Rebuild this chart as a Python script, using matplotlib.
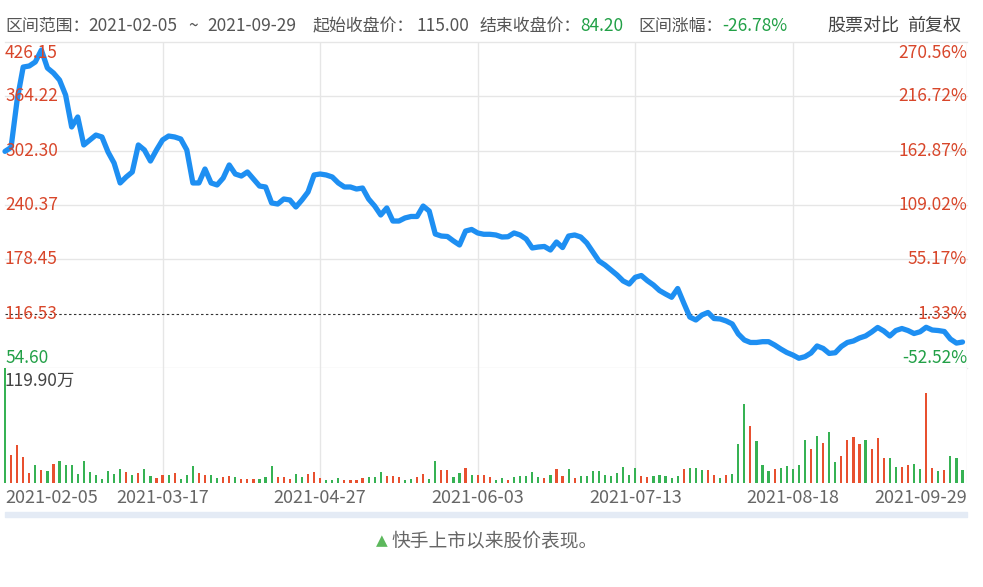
import matplotlib
matplotlib.use('Agg')
import matplotlib.pyplot as plt
from matplotlib.transforms import offset_copy, blended_transform_factory

plt.rcParams['font.family'] = ['Noto Sans CJK SC', 'DejaVu Sans']

# ---------------- data ----------------
date_ticks = ['2021-02-05', '2021-03-17', '2021-04-27', '2021-06-03',
              '2021-07-13', '2021-08-18', '2021-09-29']
date_tick_idx = [0, 26, 52, 78, 104, 130, 158]

close = [301.5, 306.0, 360.0, 397.6, 398.8, 403.4, 417.0, 396.5, 390.8, 382.8,
         365.7, 329.3, 340.7, 308.8, 314.5, 320.1, 317.9, 300.8, 288.2, 265.5,
         272.3, 278.0, 308.8, 303.1, 290.5, 303.1, 314.5, 319.0, 317.9, 315.6,
         303.1, 265.5, 265.5, 281.4, 265.5, 263.2, 271.1, 286.0, 275.7, 273.4,
         278.0, 270.0, 262.0, 260.9, 242.7, 241.5, 247.2, 246.1, 238.1, 246.1,
         255.2, 274.6, 275.7, 274.6, 272.3, 265.5, 260.9, 260.9, 258.6, 259.7,
         247.2, 239.2, 229.0, 237.0, 222.1, 222.1, 225.6, 227.3, 227.3, 239.2,
         233.5, 207.3, 205.0, 204.5, 199.4, 194.8, 210.7, 212.5, 208.5, 207.0,
         207.0, 206.2, 203.9, 204.2, 208.5, 206.2, 201.6, 191.4, 192.5, 193.1,
         189.1, 198.2, 191.9, 205.0, 206.2, 203.9, 197.1, 186.8, 176.6, 172.0,
         166.3, 160.6, 153.8, 150.3, 158.0, 160.0, 154.1, 149.2, 142.9, 138.9,
         135.2, 145.2, 128.7, 112.7, 109.3, 115.0, 117.9, 111.0, 110.5, 108.2,
         104.8, 93.4, 86.5, 83.7, 83.7, 84.6, 84.6, 80.8, 76.3, 72.3,
         69.4, 65.7, 67.5, 71.7, 79.7, 76.9, 71.2, 72.0, 79.1, 83.7,
         85.4, 88.8, 91.1, 95.6, 100.8, 96.8, 91.1, 97.3, 99.6, 97.3,
         93.9, 95.9, 101.0, 97.9, 97.3, 96.2, 87.6, 83.0, 84.2]

# volume in 万 shares
volume = [119.9, 29.0, 39.2, 26.3, 9.8, 18.5, 13.0, 12.2, 18.9, 22.8,
          17.9, 17.9, 8.8, 22.8, 10.5, 7.7, 3.5, 11.6, 8.8, 13.7,
          10.9, 8.0, 10.2, 13.7, 6.3, 4.6, 7.4, 7.4, 9.8, 3.2,
          7.7, 16.8, 9.8, 7.4, 7.7, 4.6, 6.0, 7.0, 6.0, 3.5,
          3.5, 3.5, 3.5, 6.0, 16.8, 6.0, 6.0, 3.5, 8.8, 6.0,
          8.8, 10.9, 5.0, 2.5, 2.5, 4.6, 2.5, 2.5, 2.5, 4.2,
          6.0, 5.3, 11.2, 7.0, 7.0, 6.0, 2.5, 3.2, 5.3, 8.8,
          3.5, 22.8, 13.0, 13.0, 5.3, 10.2, 15.1, 8.1, 8.1, 8.1,
          6.0, 2.5, 4.6, 2.5, 6.0, 6.7, 6.7, 10.9, 6.0, 4.6,
          7.4, 13.7, 6.7, 13.7, 4.6, 6.7, 6.7, 11.6, 11.6, 7.4,
          6.7, 10.2, 15.8, 7.4, 15.1, 6.8, 6.1, 7.2, 7.9, 6.8,
          5.1, 7.2, 13.8, 14.9, 14.9, 13.1, 13.1, 7.9, 4.4, 7.9,
          8.9, 40.4, 82.4, 59.3, 43.6, 18.0, 12.4, 14.2, 15.2, 17.7,
          13.8, 18.0, 44.3, 35.2, 48.5, 41.5, 52.7, 21.2, 28.2, 44.3,
          48.1, 40.4, 44.3, 35.2, 46.4, 25.4, 26.1, 16.6, 15.9, 18.0,
          19.1, 14.2, 93.6, 14.9, 12.4, 13.1, 27.8, 25.4, 13.1]

# r = red (up) bar, g = green (down) bar
vol_dir = list("".join(("grrrrgrgrg gggggggggg rgrggrrgrg ggrrggrrgr "
                        "rrgggrrrgg rrrgggrrrr gggrrrggrr ggrrggrgrr "
                        "rggrgggggrg rrgrgggggg ggggrrgggg grgggrrgrg "
                        "ggrgggrggg ggrgrggrrr rgrrrggrrg grrgrgggr").split()))
vol_dir = vol_dir[:len(volume)]

price_ticks = [426.15, 364.22, 302.30, 240.37, 178.45, 116.53, 54.60]
pct_ticks = ['270.56%', '216.72%', '162.87%', '109.02%', '55.17%', '1.33%', '-52.52%']
base_price = 116.53
vol_max = 119.90

# ---------------- style ----------------
RED = '#d8462a'
GREEN = '#22a047'
VRED = '#e8502f'
VGREEN = '#36b253'
BLUE = '#1e8ff2'
GRID = '#e6e6e6'
TXT = '#555555'

W, H = 983, 587
fig = plt.figure(figsize=(W / 100, H / 100), dpi=100)


def frac(x0, y0, x1, y1):
    return [x0 / W, 1 - y1 / H, (x1 - x0) / W, (y1 - y0) / H]


ax = fig.add_axes(frac(5, 42, 967, 368))
axv = fig.add_axes(frac(5, 368, 967, 482.5))

n = len(close)
xs = list(range(n))
xmax = (n - 1) + 0.74

for a in (ax, axv):
    a.set_xlim(0, xmax)
    for s in a.spines.values():
        s.set_visible(False)
    a.set_xticks([])
    a.set_yticks([])
    for t in date_tick_idx[1:-1]:
        a.axvline(t, color=GRID, lw=1, zorder=0)
    a.axvline(xmax, color=GRID, lw=1, zorder=0)

# price panel
ax.set_ylim(price_ticks[-1], price_ticks[0])
for v in price_ticks:
    if v == base_price:
        continue
    ax.axhline(v, color=GRID, lw=1, zorder=0, clip_on=False)
ax.axhline(base_price, color='#333333', lw=0.8, ls=(0, (2.2, 2.2)), zorder=1)
ax.plot(xs, close, color=BLUE, lw=3.8, solid_joinstyle='round',
        solid_capstyle='round', zorder=3, clip_on=False)

nt = len(price_ticks)
for i, (v, p) in enumerate(zip(price_ticks, pct_ticks)):
    col = GREEN if v < 115.0 else RED
    if i == 0:
        dy = -11
    elif i == nt - 1:
        dy = 10
    else:
        dy = 0
    tr_l = offset_copy(ax.get_yaxis_transform(), fig=fig, x=0, y=dy, units='dots')
    ax.text(0, v, f'{v:.2f}', transform=tr_l, ha='left', va='center',
            color=col, fontsize=12.5, zorder=4)
    ax.text(1, v, p, transform=tr_l, ha='right', va='center',
            color=col, fontsize=12.5, zorder=4)

# volume panel
axv.set_ylim(0, vol_max)
colors = [VRED if d == 'r' else VGREEN for d in vol_dir]
bars = axv.bar(xs, volume, width=0.36, color=colors, zorder=2)
for b in bars:
    b.set_clip_on(False)
tr_v = offset_copy(axv.transAxes, fig=fig, x=0, y=-4, units='dots')
axv.text(0, 1, f'{vol_max:.2f}万', transform=tr_v, ha='left', va='top',
         color='#444444', fontsize=12.5, zorder=4)

# date labels
tr_d = blended_transform_factory(axv.transData, fig.transFigure)
for t, lab in zip(date_tick_idx, date_ticks):
    if t == 0:
        ha = 'left'
    elif t == date_tick_idx[-1]:
        ha = 'right'
    else:
        ha = 'center'
    xpos = xmax if t == date_tick_idx[-1] else t
    axv.text(xpos, 1 - 498 / H, lab, transform=tr_d, ha=ha, va='center',
             color='#666666', fontsize=13)

# scrollbar band
fig.patches.append(plt.Rectangle((5 / W, 1 - 517 / H), 962 / W, 5 / H,
                                 transform=fig.transFigure, color='#e4ebf5',
                                 zorder=0))

# header
hy = 1 - 26 / H
hs = 12.2
ds = 12.5
pieces = [
    (5, '区间范围：', TXT, hs, 'left'),
    (88, '2021-02-05', TXT, ds, 'left'),
    (193, '~', TXT, ds, 'center'),
    (207, '2021-09-29', TXT, ds, 'left'),
    (313, '起始收盘价：', TXT, hs, 'left'),
    (417, '115.00', TXT, ds, 'left'),
    (480, '结束收盘价：', TXT, hs, 'left'),
    (580, '84.20', GREEN, ds, 'left'),
    (638, '区间涨幅：', TXT, hs, 'left'),
    (722, '-26.78%', GREEN, ds, 'left'),
    (827, '股票对比', '#444444', 13, 'left'),
    (907, '前复权', '#444444', 13, 'left'),
]
for x, s, c, fs, ha in pieces:
    fig.text(x / W, hy, s, color=c, fontsize=fs, va='center', ha=ha)

# caption
cy = 1 - 541 / H
fig.text(382 / W, cy, '▲', color='#5cb85c', fontsize=11, va='center', ha='center',
         family=['DejaVu Sans'])
fig.text(391 / W, cy, '快手上市以来股价表现。', color='#666666', fontsize=13.5,
         va='center', ha='left')

fig.savefig('out.png', dpi=100)
